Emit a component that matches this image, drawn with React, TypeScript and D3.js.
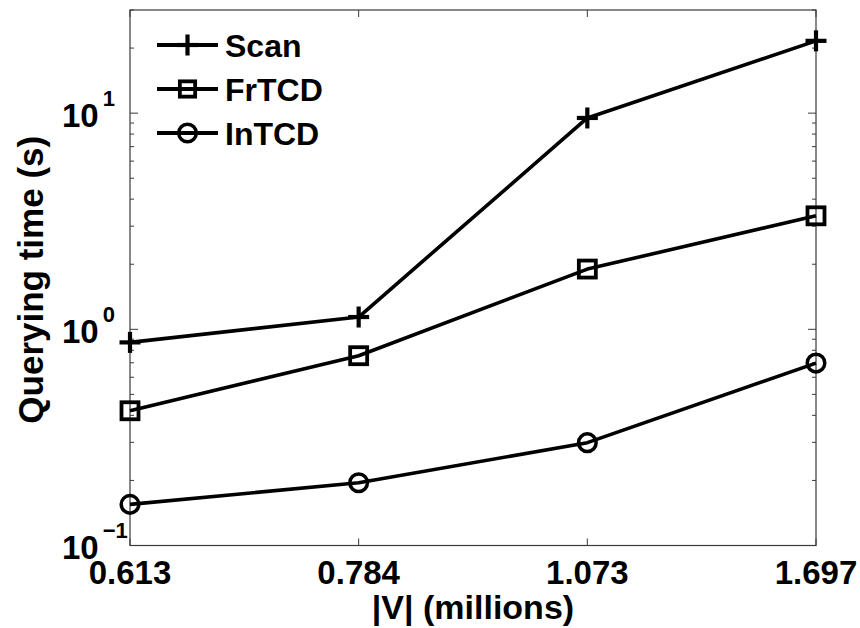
import React from "react";
import * as d3 from "d3";

const categories = ["0.613", "0.784", "1.073", "1.697"];
const scanValues = [0.87, 1.14, 9.5, 21.6];
const frtcdValues = [0.42, 0.755, 1.9, 3.35];
const intcdValues = [0.155, 0.195, 0.299, 0.698];
const seriesNames = ["Scan", "FrTCD", "InTCD"];
const yMajorTicks = [0.1, 1, 10];
const yTickExponents = ["\u22121", "0", "1"];

const W = 860;
const H = 628;
const M = { left: 130, right: 816, top: 10, bottom: 545.5 };
const FONT = "'Liberation Sans', Arial, Helvetica, sans-serif";

export default function App() {
  const x = d3.scaleLinear().domain([0, categories.length - 1]).range([M.left, M.right]);
  const y = d3.scaleLog().domain([0.1, 30]).range([M.bottom, M.top]);

  const line = d3
    .line<number>()
    .x((_, i) => x(i))
    .y((d) => y(d));

  const minorTicks: number[] = [];
  for (const dec of [0.1, 1, 10]) {
    for (let k = 2; k <= 9; k++) {
      const v = dec * k;
      if (v <= 30) minorTicks.push(v);
    }
  }

  const series = [
    { name: seriesNames[0], values: scanValues, marker: "plus" },
    { name: seriesNames[1], values: frtcdValues, marker: "square" },
    { name: seriesNames[2], values: intcdValues, marker: "circle" },
  ];

  const marker = (type: string, cx: number, cy: number, key: string, s = 1) => {
    if (type === "plus") {
      const a = 10.5 * s;
      return (
        <g key={key} stroke="#000" strokeWidth={4.2}>
          <line x1={cx - a} x2={cx + a} y1={cy} y2={cy} />
          <line x1={cx} x2={cx} y1={cy - a} y2={cy + a} />
        </g>
      );
    }
    if (type === "square") {
      const a = 8.5 * s;
      return (
        <rect key={key} x={cx - a} y={cy - a} width={2 * a} height={2 * a} fill="none" stroke="#000" strokeWidth={3.8} />
      );
    }
    return <circle key={key} cx={cx} cy={cy} r={8.8 * s} fill="none" stroke="#000" strokeWidth={3.5} />;
  };

  const axisColor = "#3a3a3a";

  return (
    <svg width={W} height={H} style={{ position: "absolute", left: 0, top: 0, background: "#fff" }}>
      <rect x={0} y={0} width={W} height={H} fill="#fff" />
      {minorTicks.map((v, i) => (
        <g key={"mn" + i} stroke={axisColor} strokeWidth={1}>
          <line x1={M.left} x2={M.left + 4} y1={y(v)} y2={y(v)} />
          <line x1={M.right} x2={M.right - 4} y1={y(v)} y2={y(v)} />
        </g>
      ))}
      {yMajorTicks.map((v, i) => (
        <g key={"mj" + i} stroke={axisColor} strokeWidth={1}>
          <line x1={M.left} x2={M.left + 8} y1={y(v)} y2={y(v)} />
          <line x1={M.right} x2={M.right - 8} y1={y(v)} y2={y(v)} />
        </g>
      ))}
      {categories.map((c, i) => (
        <g key={"xt" + i} stroke={axisColor} strokeWidth={1}>
          <line x1={x(i)} x2={x(i)} y1={M.bottom} y2={M.bottom - 7} />
          <line x1={x(i)} x2={x(i)} y1={M.top} y2={M.top + 7} />
        </g>
      ))}
      <rect
        x={M.left}
        y={M.top}
        width={M.right - M.left}
        height={M.bottom - M.top}
        fill="none"
        stroke={axisColor}
        strokeWidth={1.2}
      />
      {series.map((s) => (
        <path key={s.name} d={line(s.values) || ""} fill="none" stroke="#000" strokeWidth={3.6} strokeLinejoin="round" />
      ))}
      {series.map((s) =>
        s.values.map((v, i) => marker(s.marker, x(i), y(v), s.name + i))
      )}
      {yMajorTicks.map((v, i) => (
        <text key={"yl" + i} x={62} y={y(v) + 13.5} fontFamily={FONT} fontWeight="bold" fontSize={33} fill="#000">
          10
          <tspan dx={4} dy={-21} fontSize={22}>
            {yTickExponents[i]}
          </tspan>
        </text>
      ))}
      {categories.map((c, i) => (
        <text
          key={"xl" + i}
          x={x(i)}
          y={584}
          textAnchor="middle"
          fontFamily={FONT}
          fontWeight="bold"
          fontSize={33}
          fill="#000"
        >
          {c}
        </text>
      ))}
      <text
        x={(M.left + M.right) / 2}
        y={619}
        textAnchor="middle"
        fontFamily={FONT}
        fontWeight="bold"
        fontSize={34}
        fill="#000"
      >
        |V| (millions)
      </text>
      <text
        transform={`translate(43, ${(M.top + M.bottom) / 2 + 2}) rotate(-90)`}
        textAnchor="middle"
        fontFamily={FONT}
        fontWeight="bold"
        fontSize={35}
        fill="#000"
      >
        Querying time (s)
      </text>
      {series.map((s, i) => {
        const ly = 45 + i * 44;
        return (
          <g key={"lg" + i}>
            <line x1={157} x2={218} y1={ly} y2={ly} stroke="#000" strokeWidth={4} />
            {marker(s.marker, 187.5, ly, "lm" + i, s.marker === "square" ? 0.9 : 1)}
            <text x={225} y={ly + 11.5} fontFamily={FONT} fontWeight="bold" fontSize={32} fill="#000">
              {s.name}
            </text>
          </g>
        );
      })}
    </svg>
  );
}
